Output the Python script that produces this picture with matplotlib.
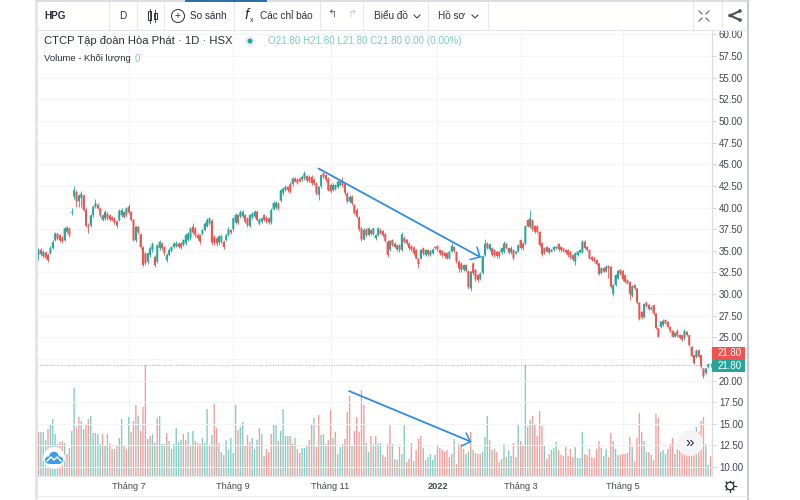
import matplotlib
matplotlib.use('Agg')
import numpy as np
import matplotlib.pyplot as plt
from matplotlib.patches import Circle, Rectangle

plt.rcParams['font.family'] = ['Liberation Sans', 'DejaVu Sans']

opens = [34.5,35.1,34.4,34.8,34.5,34.7,35.3,36.2,37.0,36.8,
    36.5,36.2,37.2,37.6,39.4,41.25,41.8,40.7,41.1,41.4,
    39.7,37.95,37.9,39.1,40.1,40.3,39.9,38.55,38.75,39.3,
    39.1,38.9,38.75,38.4,38.55,39.1,39.5,39.1,40.1,39.5,
    38.6,36.2,37.8,36.9,35.4,34.7,33.75,34.5,35.1,34.3,
    33.75,35.3,35.85,35.45,33.9,34.5,35.0,35.45,35.55,35.85,
    35.85,35.65,35.85,36.25,36.45,37.8,37.6,36.8,36.8,36.95,
    37.4,37.8,38.15,38.5,36.65,36.45,35.95,36.05,36.05,36.25,
    36.8,37.4,37.5,38.25,39.15,38.95,38.95,39.15,38.75,37.85,
    38.85,38.95,39.5,38.15,38.35,39.15,38.85,38.75,38.25,39.8,
    40.0,40.5,40.8,41.7,42.0,42.4,42.7,42.7,43.35,43.25,
    43.35,43.25,43.35,43.65,43.55,43.55,43.2,42.8,41.45,42.45,
    43.95,43.75,43.35,42.6,42.0,42.1,42.35,42.6,43.0,42.7,
    41.65,40.7,41.25,40.3,39.7,38.85,37.6,36.3,37.45,36.8,
    37.4,36.95,36.45,36.8,37.4,37.3,36.95,36.05,35.15,36.25,
    35.85,35.15,35.65,35.1,36.45,36.3,35.85,35.55,35.4,35.1,
    34.1,34.1,35.3,34.5,35.1,34.5,34.7,35.3,35.55,35.1,
    35.0,34.8,34.7,34.1,34.9,35.45,34.9,33.75,33.55,32.8,
    33.35,32.6,30.65,33.55,32.8,32.2,31.7,32.45,34.5,35.85,
    35.15,35.3,35.1,34.9,34.9,34.8,34.9,35.85,35.3,34.8,
    35.1,34.7,34.9,36.25,35.85,35.85,38.55,37.8,38.55,37.85,
    37.85,37.2,35.85,35.3,34.9,35.3,34.9,35.1,35.3,35.8,
    35.45,35.3,35.1,35.1,34.9,34.5,33.75,34.5,34.8,34.8,
    36.05,35.45,35.1,34.3,34.2,33.95,33.55,32.4,33.0,32.6,
    33.25,33.15,30.0,31.05,31.8,32.8,32.7,32.2,31.6,31.4,
    29.8,31.05,30.65,29.0,27.95,27.3,29.0,28.75,28.25,28.7,
    27.75,26.05,26.2,26.4,27.0,26.8,26.2,25.75,25.05,25.75,
    25.25,25.25,24.9,25.65,25.25,23.9,22.95,22.7,23.5,22.95,
    21.4,20.85,21.55,21.8]
closes = [35.1,34.6,34.9,34.2,33.9,35.3,36.0,37.0,36.4,36.2,
    36.1,37.6,37.7,36.8,39.5,42.0,40.7,41.4,41.6,39.7,
    37.9,37.8,39.1,40.1,40.5,39.9,39.1,39.1,39.5,38.75,
    38.6,38.55,38.25,37.9,39.6,39.7,38.9,39.9,39.4,38.55,
    36.2,37.8,37.1,35.4,33.35,33.55,34.7,35.3,35.8,33.35,
    35.65,36.05,35.3,34.7,34.5,35.1,35.45,35.85,35.85,35.45,
    35.4,36.25,36.8,37.0,37.6,37.1,36.8,36.45,36.05,37.4,
    38.15,38.55,38.75,35.95,35.95,35.85,36.7,36.7,35.45,36.8,
    37.45,37.1,38.75,39.15,38.25,39.5,39.5,38.35,37.95,39.15,
    39.3,39.5,38.55,38.6,38.75,38.55,38.35,38.3,39.7,40.55,
    40.55,39.9,42.0,42.2,42.4,42.0,41.8,43.35,43.0,42.85,
    43.0,43.55,43.95,43.1,43.1,42.8,42.8,41.65,42.4,43.75,
    43.55,43.2,42.0,41.85,42.6,42.6,43.0,43.0,42.6,41.7,
    40.7,41.25,40.5,39.35,38.95,37.5,36.3,37.4,36.8,37.6,
    36.95,37.6,36.8,37.6,37.0,36.8,36.15,34.5,36.15,35.65,
    35.45,35.65,35.1,36.9,36.05,35.85,35.3,35.15,34.7,34.1,
    33.45,35.1,34.7,35.1,34.6,35.0,35.15,35.45,35.15,34.7,
    34.5,34.4,34.1,34.9,35.55,35.0,33.75,32.95,32.8,33.35,
    32.7,30.8,32.6,32.4,31.7,31.6,32.4,34.4,35.8,35.3,
    35.75,34.5,34.5,34.4,34.4,35.3,35.85,35.3,34.8,35.3,
    34.15,34.9,35.65,35.3,35.3,37.85,37.8,38.75,37.5,37.2,
    37.2,35.65,34.6,34.7,35.45,34.8,35.15,35.45,35.45,35.15,
    35.1,35.0,34.8,34.5,34.3,34.0,34.7,34.9,35.1,36.05,
    35.3,35.1,34.1,33.95,33.85,33.45,32.3,33.0,32.6,33.15,
    33.0,30.85,31.05,32.2,32.7,32.3,31.7,31.4,31.25,30.0,
    30.9,30.65,29.0,27.1,27.3,28.85,28.6,28.25,28.45,27.75,
    26.05,25.05,26.8,26.9,26.6,26.2,25.75,25.05,25.5,25.15,
    24.9,24.75,25.75,25.25,24.1,22.85,22.0,23.45,22.75,21.6,
    20.5,21.4,21.9,21.8]
highs = [35.3,35.3,35.1,35.0,34.7,35.5,36.2,37.2,37.1,36.9,
    36.7,37.7,37.9,37.8,39.9,42.5,42.0,41.6,41.9,41.6,
    39.9,38.2,39.3,40.3,41.0,40.5,40.0,39.3,39.7,39.5,
    39.3,39.0,38.9,38.5,39.8,39.9,39.6,40.1,40.4,39.6,
    38.7,37.9,37.9,37.0,35.5,34.8,34.8,35.5,36.0,34.5,
    35.8,36.2,36.0,35.6,34.7,35.3,35.6,36.0,36.1,36.0,
    36.0,36.4,37.0,37.2,37.8,38.2,37.7,37.0,36.9,37.5,
    38.3,38.8,38.9,38.7,36.8,36.6,36.8,36.9,36.2,37.0,
    37.7,37.5,38.9,39.4,39.3,39.7,39.7,39.3,38.9,39.3,
    39.5,39.7,39.7,38.8,38.9,39.3,39.0,38.9,39.9,40.7,
    40.7,40.6,42.1,42.4,42.6,42.5,42.9,43.5,43.5,43.4,
    43.5,43.7,44.2,43.8,43.7,43.7,43.4,42.9,42.5,43.9,
    44.1,43.9,43.5,42.8,42.8,42.7,43.2,43.2,43.55,42.8,
    41.8,41.4,41.4,40.4,39.9,39.0,37.7,37.6,37.6,37.7,
    37.5,37.7,36.9,37.8,37.6,37.4,37.1,36.2,36.3,36.4,
    36.0,35.8,35.8,37.2,36.7,36.4,36.0,35.7,35.5,35.2,
    34.2,35.2,35.4,35.2,35.2,35.1,35.3,35.6,35.7,35.2,
    35.1,34.9,34.8,35.0,35.9,35.6,35.0,33.9,33.7,33.5,
    33.5,32.8,32.7,33.7,32.9,32.3,32.5,34.5,36.4,36.0,
    35.9,35.4,35.2,35.0,35.0,35.4,36.1,35.95,35.4,35.5,
    35.2,35.0,35.8,36.4,36.0,38.0,38.7,39.7,38.7,38.0,
    38.0,37.3,36.0,35.4,35.6,35.4,35.2,35.6,35.6,35.9,
    35.5,35.4,35.2,35.2,35.0,34.6,34.8,35.0,35.2,36.2,
    36.2,35.5,35.2,34.4,34.3,34.0,33.6,33.1,33.1,33.3,
    33.3,33.2,31.2,32.3,32.8,32.9,32.8,32.3,31.7,31.5,
    31.0,31.1,30.7,29.1,28.0,29.0,29.2,28.8,28.6,28.8,
    27.8,26.1,26.9,27.1,27.1,26.9,26.3,25.8,25.6,25.9,
    25.4,25.3,26.0,25.7,25.3,24.0,23.0,23.6,23.6,23.0,
    21.5,21.5,22.0,22.0]
lows = [33.9,34.4,34.2,34.0,33.7,34.6,35.2,36.1,36.3,36.0,
    35.9,36.1,37.0,36.6,39.1,41.0,40.1,40.1,40.1,39.6,
    37.7,37.1,37.7,38.9,39.9,39.8,38.9,38.4,38.6,38.5,
    38.4,38.4,38.1,37.6,38.4,38.9,38.8,38.9,39.2,38.4,
    36.1,36.0,36.9,35.2,33.2,33.3,33.5,34.3,34.9,33.1,
    33.6,35.1,35.1,34.5,33.7,34.4,34.9,35.3,35.4,35.3,
    35.2,35.5,35.7,36.1,36.3,36.9,36.6,36.3,35.8,36.8,
    37.3,37.7,38.0,35.7,35.7,35.5,35.7,35.9,35.2,36.1,
    36.7,36.9,37.3,38.1,38.1,38.8,38.8,38.2,37.8,37.7,
    38.7,38.8,38.4,38.0,38.2,38.4,38.2,38.1,38.1,39.7,
    39.8,39.7,40.6,41.5,41.9,41.8,41.7,42.5,42.9,42.7,
    42.9,43.1,43.2,42.9,42.9,42.6,42.6,41.5,40.9,42.3,
    43.4,43.0,41.9,41.7,41.9,42.0,42.2,42.5,42.4,41.5,
    40.5,40.5,40.3,39.2,38.8,37.3,36.1,36.2,36.6,36.7,
    36.8,36.8,36.3,36.7,36.9,36.6,36.0,34.3,35.0,35.5,
    35.3,35.0,34.9,35.0,35.9,35.7,35.1,35.0,34.5,34.0,
    33.0,34.0,34.5,34.4,34.4,34.4,34.6,35.2,35.0,34.5,
    34.3,34.2,34.0,34.0,34.8,34.8,33.6,32.6,32.6,32.7,
    32.5,30.6,30.3,32.2,31.5,31.4,31.6,32.3,34.4,35.2,
    35.0,34.4,34.3,34.2,34.2,34.6,34.7,35.2,34.6,34.6,
    33.9,34.6,34.8,35.2,35.1,35.7,37.7,37.6,37.3,37.0,
    37.0,35.5,34.4,34.6,34.8,34.6,34.8,35.0,35.2,35.0,
    34.9,34.9,34.6,34.3,34.1,33.8,33.4,34.4,34.7,34.7,
    35.2,35.0,34.0,33.8,33.7,33.3,32.2,32.3,32.5,32.5,
    31.8,30.7,29.8,30.9,31.7,32.2,31.5,31.3,31.1,29.3,
    29.6,30.5,28.9,27.0,27.1,27.2,28.5,28.1,28.2,27.6,
    25.9,25.0,26.1,26.3,26.5,26.1,25.6,25.0,25.0,25.0,
    24.8,24.6,24.7,25.1,24.0,22.7,21.9,22.6,22.6,21.5,
    20.3,20.7,21.4,21.6]

volumes = [44,44,44,36,47,51,57,42,32,34,
    35,33,22,28,45,88,49,59,55,47,
    51,57,60,43,43,42,32,42,30,42,
    33,27,27,30,38,57,30,27,59,44,
    55,71,60,45,69,111,37,40,42,33,
    58,60,32,32,43,35,27,32,48,34,
    36,42,36,44,30,45,35,33,32,38,
    33,67,30,41,72,48,33,24,21,36,
    26,38,23,71,46,49,54,30,41,34,
    38,27,36,48,42,20,27,24,42,52,
    52,35,45,67,40,40,40,32,38,27,
    23,28,28,31,36,51,58,29,61,41,
    42,32,36,66,38,44,22,29,32,37,
    64,80,31,45,59,44,86,71,33,24,
    40,32,40,32,33,21,19,32,51,32,
    17,16,29,22,52,14,17,33,15,26,
    37,40,28,16,19,22,16,21,30,28,
    26,24,26,19,22,37,12,32,32,27,
    22,24,44,26,23,22,22,24,39,60,
    36,26,27,24,14,17,32,19,26,20,
    33,19,52,35,30,111,49,56,60,52,
    40,65,50,31,17,22,26,28,34,26,
    21,20,29,20,27,19,29,18,18,44,
    22,21,27,19,18,27,35,28,20,27,
    19,43,35,27,21,21,22,22,23,39,
    29,15,38,63,44,35,24,24,21,16,
    62,58,24,26,22,27,32,38,22,27,
    30,36,29,27,26,24,26,49,44,55,
    59,32,11,20]
volume_dirs = ('rgggrggggr' 'rgrrggrrgg' 'rrgggggrgg' 'rrgrggrrgr' 'rrgrrrgrgg'
    'rgggrggggg' 'grrgrgrrrg' 'ggrgrrggrg' 'ggggrggrrr' 'gggrgrrrrg'
    'grggggrrgr' 'rgggrrgrrg' 'ggrrgrgggr' 'rrgrrrrrgg' 'rgrggrrrrg'
    'rgrggrrrgr' 'rrgrggggrr' 'rrrrrgrrrr' 'ggrgrrrggg' 'rgrrrggrgg'
    'rrgrrgrgrr' 'rrrgrrgggr' 'rrrrrrgggg' 'rrrrrrrggg' 'rrgggrrrrr'
    'grrrrggrrr' 'rrgggrrrgr' 'rrrrrrrgrr' 'rggr')

month_pos = [38, 82, 123, 168, 203, 246]
month_labels = ['Tháng 7', 'Tháng 9', 'Tháng 11', '2022', 'Tháng 3', 'Tháng 5']
price_ticks = [60, 57.5, 55, 52.5, 50, 47.5, 45, 42.5, 40, 37.5, 35, 32.5,
               30, 27.5, 25, 22.5, 20, 17.5, 15, 12.5, 10]
last_price = 21.80

UP = '#26a69a'
DOWN = '#ef5350'
TEXT = '#434651'

W, H = 800, 500
fig = plt.figure(figsize=(W / 100, H / 100), dpi=100)
fig.patch.set_facecolor('white')

# chart pane
left, right, top, bottom = 37, 712, 30, 476
ax_vol = fig.add_axes([left / W, 1 - bottom / H, (right - left) / W, (bottom - top) / H])
ax = ax_vol.twinx()
ax.set_zorder(ax_vol.get_zorder() + 1)
ax.patch.set_visible(False)

idx = np.arange(len(closes))
o = np.array(opens)
c = np.array(closes)

# volume
vol_colors = ['#84ccc1' if d == 'g' else '#f79c98' for d in volume_dirs]
vol_bars = ax_vol.bar(idx, volumes, width=0.58, color=vol_colors, linewidth=0)
for b in vol_bars:
    b.set_snap(False)
ax_vol.set_ylim(0, bottom - top)
ax_vol.set_yticks([])
ax_vol.set_xlim(-0.63, 283.6)
ax_vol.set_xticks(month_pos)
ax_vol.set_xticklabels(month_labels, fontsize=6.6, color=TEXT)
for lab in ax_vol.get_xticklabels():
    if lab.get_text() == '2022':
        lab.set_fontweight('bold')
ax_vol.tick_params(axis='x', length=0, pad=4.5)
ax_vol.grid(axis='x', color='#f3f4f7', linewidth=0.8)
ax_vol.set_axisbelow(True)

# candles
colors = [UP if cc >= oo else DOWN for oo, cc in zip(o, c)]
ax.vlines(idx, lows, highs, colors=colors, linewidth=0.6)
bodies = ax.bar(idx, np.maximum(np.abs(c - o), 0.05), bottom=np.minimum(o, c), width=0.85,
                color=colors, linewidth=0)
for b in bodies:
    b.set_snap(False)
ax.axhline(last_price, color='#26a69a', linewidth=0.7, linestyle=(0, (1, 1.5)), alpha=0.6)

# the 22.50 label sits under the last price boxes, as on the original chart
ax.set_ylim(8.96, 60.52)
ax.set_yticks(price_ticks)
ax.set_yticklabels(['' if p == 22.5 else '%.2f' % p for p in price_ticks], fontsize=7, color=TEXT)
ax.tick_params(axis='y', length=3, width=0.6, color='#c9cbd2', pad=2)
ax.grid(axis='y', color='#f3f4f7', linewidth=0.8)
ax.set_axisbelow(True)

for a in (ax, ax_vol):
    a.spines['top'].set_visible(False)
    a.spines['left'].set_visible(False)
    a.spines['right'].set_color('#d9dbe2')
    a.spines['bottom'].set_color('#e6e8ee')
    a.spines['right'].set_linewidth(0.8)
    a.spines['bottom'].set_linewidth(0.8)

# everything around the chart, in pixels
ui = fig.add_axes([0, 0, 1, 1], facecolor='none')
ui.set_xlim(0, W)
ui.set_ylim(H, 0)
ui.axis('off')
ui.set_zorder(ax.get_zorder() + 1)

ui.add_patch(Rectangle((35, 0), 2.5, 500, color='#e3e5ee', lw=0))
ui.add_patch(Rectangle((746.5, 0), 2, 500, color='#c3cad6', lw=0))
ui.add_patch(Rectangle((35, 0), 713, 2, color='#dcdee4', lw=0))
ui.add_patch(Rectangle((185, 0), 82, 1.5, color='#2f6fa8', lw=0))
ui.plot([37, 747], [29.5, 29.5], color='#e3e5ea', lw=0.8)
ui.plot([37, 747], [496, 496], color='#eceef2', lw=0.8)

for x in [109, 137, 164, 234, 320, 363, 428, 488, 693, 722]:
    ui.plot([x, x], [2, 29.5], color='#e8e9ee', lw=0.8)

tb = dict(va='center', color='#2a2e39', fontsize=7.2)
ui.text(44, 16, 'HPG', fontweight='bold', **tb)
ui.text(123, 16, 'D', ha='center', **tb)
ui.text(190, 16, 'So sánh', **tb)
ui.text(260, 16, 'Các chỉ báo', **tb)
ui.text(374, 16, 'Biểu đồ', **tb)
ui.text(438, 16, 'Hồ sơ', **tb)

# candle icon
ui.add_patch(Rectangle((148, 11), 3, 9, fill=False, ec='#2a2e39', lw=0.7))
ui.plot([149.5, 149.5], [9, 23], color='#2a2e39', lw=0.6)
ui.add_patch(Rectangle((153.5, 13), 3, 6, fill=False, ec='#2a2e39', lw=0.7))
ui.plot([155, 155], [10, 22], color='#2a2e39', lw=0.6)

# compare, indicator and other small icons
ui.add_patch(Circle((178, 16), 6.5, fill=False, ec='#2a2e39', lw=0.7))
ui.text(178, 16, '+', ha='center', va='center', fontsize=7.5, color='#2a2e39')
ui.text(247, 15, 'f', ha='center', va='center', fontsize=11, style='italic', color='#2a2e39')
ui.text(252, 20, 'x', ha='center', va='center', fontsize=5, color='#2a2e39')
ui.text(332, 15, '↰', ha='center', va='center', fontsize=8, color='#6a6d78', family='DejaVu Sans')
ui.text(352, 15, '↱', ha='center', va='center', fontsize=8, color='#c8cad0', family='DejaVu Sans')
for x in [417, 475]:
    ui.plot([x - 3, x, x + 3], [15, 18, 15], color='#2a2e39', lw=0.7)
for sx, sy in [(1, 1), (-1, 1), (1, -1), (-1, -1)]:
    ui.plot([704 + sx * 2, 704 + sx * 5], [16 + sy * 2, 16 + sy * 5], color='#4a4e59', lw=0.7)
ui.plot([740, 730, 740], [11, 15.5, 20], color='#50535e', lw=1.6)
for x, y in [(740, 11), (730, 15.5), (740, 20)]:
    ui.add_patch(Circle((x, y), 1.8, color='#50535e', lw=0))

# legend lines
ui.text(44, 41, 'CTCP Tập đoàn Hòa Phát · 1D · HSX', va='center', color='#2a2e39', fontsize=8.1)
ui.add_patch(Circle((250, 41), 5, color='#e8eef3', lw=0))
ui.add_patch(Circle((250, 41), 2.5, color=UP, lw=0))
ui.text(268, 41, 'O21.80 H21.80 L21.80 C21.80 0.00 (0.00%)', va='center', color='#7ccbc2', fontsize=7.1)
ui.text(44, 58.5, 'Volume - Khối lượng', va='center', color='#2a2e39', fontsize=6.8)
ui.text(135, 58.5, '0', va='center', color='#7ccbc2', fontsize=7)

# last price labels
ui.add_patch(Rectangle((712, 346.5), 33, 13, color=DOWN, lw=0))
ui.text(730, 353, '21.80', ha='center', va='center', color='white', fontsize=7)
ui.add_patch(Rectangle((712, 360), 33, 11.5, color=UP, lw=0))
ui.text(730, 366, '21.80', ha='center', va='center', color='white', fontsize=7)

# hand drawn trend arrows
BLUE = '#2e8be6'
for line, barbs in [
    (((318.5, 168.5), (480, 257)), ((470, 259.5), (480, 257), (477, 247))),
    (((349, 391), (470.5, 441.5)), ((461.5, 446), (470.5, 441.5), (466, 433))),
]:
    ui.plot(*zip(*line), color=BLUE, lw=1.3, solid_capstyle='round')
    ui.plot(*zip(*barbs), color=BLUE, lw=1.1, solid_capstyle='round')

# logo and scroll button
ui.add_patch(Circle((54, 458), 11, color='white', lw=0))
for x, y, r in [(48.5, 460, 3.6), (54, 456.5, 4.8), (59.5, 460, 3.6)]:
    ui.add_patch(Circle((x, y), r, color='#3d9be9', lw=0))
ui.add_patch(Rectangle((48.5, 460), 11, 3.6, color='#3d9be9', lw=0))
ui.plot([47, 51, 54, 57, 61], [461, 457, 460, 457, 461], color='white', lw=1.1)
ui.add_patch(Circle((690, 443), 13, color='#f4f4f6', lw=0))
ui.text(690, 442.5, '»', ha='center', va='center', fontsize=11, color='#2a2e39')

# settings gear
ui.add_patch(Circle((730, 486), 3.8, fill=False, ec='#2a2e39', lw=0.9))
for a in np.deg2rad(np.arange(0, 360, 45)):
    ui.plot([730 + 3.8 * np.cos(a), 730 + 5.5 * np.cos(a)],
            [486 + 3.8 * np.sin(a), 486 + 5.5 * np.sin(a)], color='#2a2e39', lw=0.9)

fig.savefig('out.png', dpi=100, facecolor='white')
